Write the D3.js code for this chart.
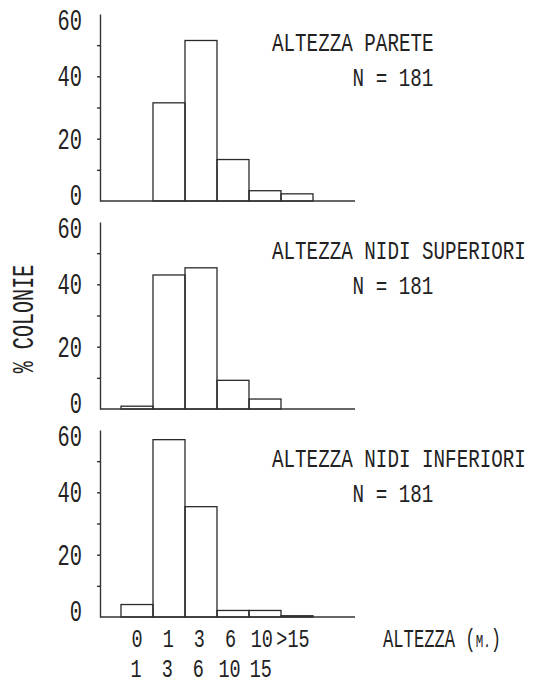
<!DOCTYPE html>
<meta charset="utf-8">
<style>
body { margin: 0; background: #fff; }
text { font-family: "Liberation Mono", "DejaVu Sans Mono", monospace; fill: #222; }
.bar { fill: none; stroke: #2a2a2a; stroke-width: 1.3px; }
.axis path, .axis line { stroke: #333; stroke-width: 1.4px; }
</style>
<svg width="534" height="684"></svg>
<script src="https://d3js.org/d3.v7.min.js"></script>
<script>

// data
var bins = ["0-1", "1-3", "3-6", "6-10", "10-15", ">15"];
var binFrom = ["0", "1", "3", "6", "10", ">15"];
var binTo = ["1", "3", "6", "10", "15", ""];
var pareteValues = [0, 31.5, 51.5, 13.3, 3.3, 2.3];
var superioriValues = [0.9, 43, 45.3, 9.2, 3.2, 0];
var inferioriValues = [4.0, 56.9, 35.4, 2.1, 2.1, 0.4];
var panelTitles = ["ALTEZZA PARETE", "ALTEZZA NIDI SUPERIORI", "ALTEZZA NIDI INFERIORI"];
var sampleSizes = [181, 181, 181];
var yTickValues = [10, 20, 30, 40, 50];
var yLabelValues = [0, 20, 40, 60];

var svg = d3.select("svg");

var panelTops = [14, 222, 430],
    panelHeight = 187,
    axisLeft = 100,
    axisRight = 355;

var x = d3.scaleBand().domain(bins).range([121, 313]).padding(0);

// stretched-narrow text helper (plotter lettering is very condensed)
function label(g, str, px, py, size, sx, anchor) {
  return g.append("text")
    .attr("transform", "translate(" + px + "," + py + ") scale(" + sx + ",1)")
    .attr("text-anchor", anchor || "start")
    .style("font-size", size + "px")
    .text(str);
}

var series = [pareteValues, superioriValues, inferioriValues];

series.forEach(function(values, i) {
  var top = panelTops[i];
  var y = d3.scaleLinear().domain([0, 60]).range([top + panelHeight, top]);
  var g = svg.append("g");

  // bars
  g.selectAll(".bar")
    .data(values.map(function(v, k) { return {bin: bins[k], v: v}; }).filter(function(d) { return d.v > 0; }))
    .enter().append("rect")
    .attr("class", "bar")
    .attr("x", function(d) { return x(d.bin); })
    .attr("width", x.bandwidth())
    .attr("y", function(d) { return y(d.v); })
    .attr("height", function(d) { return y(0) - y(d.v); });

  // y axis
  g.append("g")
    .attr("class", "axis")
    .attr("transform", "translate(" + axisLeft + ",0)")
    .call(d3.axisLeft(y).tickValues(yTickValues).tickSize(3).tickSizeOuter(0).tickFormat(""));

  // baseline
  g.append("line")
    .attr("x1", axisLeft).attr("x2", axisRight)
    .attr("y1", y(0)).attr("y2", y(0))
    .style("stroke", "#333").style("stroke-width", 1.4);

  yLabelValues.forEach(function(v) {
    var py = Math.min(Math.max(y(v), top + 6), top + panelHeight - 6);
    label(g, String(v), 82, py + 10, 30, 0.68, "end");
  });

  label(g, panelTitles[i], 272, top + 37, 26, 0.74);
  label(g, "N = " + sampleSizes[i], 393, top + 72, 26, 0.74, "middle");
});

// y title
svg.append("text")
  .attr("transform", "translate(33,319) rotate(-90) scale(0.67,1)")
  .attr("text-anchor", "middle")
  .style("font-size", "30px")
  .text("% COLONIE");

// x labels (two rows: from / to)
var xg = svg.append("g");
bins.forEach(function(b, k) {
  var cx = x(b) + x.bandwidth() / 2 - k * 0.8;
  label(xg, binFrom[k], cx, 647, 25, 0.74, "middle");
  if (binTo[k]) label(xg, binTo[k], cx - 1, 677, 25, 0.74, "middle");
});

var xt = label(xg, "ALTEZZA (", 383, 647, 26, 0.66);
xt.text("ALTEZZA (");
xt.append("tspan").style("font-size", "19px").text("M.");
xt.append("tspan").text(")");

</script>
